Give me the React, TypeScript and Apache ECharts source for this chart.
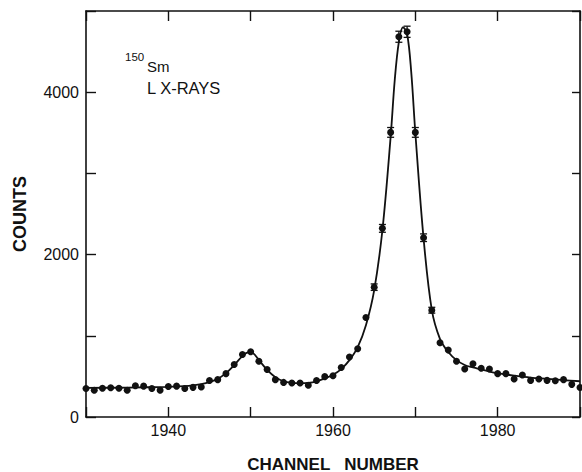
import React, { useEffect, useRef } from 'react';
import * as echarts from 'echarts';

const channels = [
  1930, 1931, 1932, 1933, 1934, 1935, 1936, 1937, 1938, 1939,
  1940, 1941, 1942, 1943, 1944, 1945, 1946, 1947, 1948, 1949,
  1950, 1951, 1952, 1953, 1954, 1955, 1956, 1957, 1958, 1959,
  1960, 1961, 1962, 1963, 1964, 1965, 1966, 1967, 1968, 1969,
  1970, 1971, 1972, 1973, 1974, 1975, 1976, 1977, 1978, 1979,
  1980, 1981, 1982, 1983, 1984, 1985, 1986, 1987, 1988, 1989, 1990,
];
const counts = [
  350, 330, 355, 360, 355, 330, 385, 380, 350, 330,
  375, 380, 350, 365, 370, 450, 460, 534, 646, 770,
  804, 687, 584, 460, 426, 419, 419, 392, 450, 497,
  509, 610, 739, 841, 1226, 1599, 2323, 3505, 4683, 4744,
  3505, 2208, 1315, 915, 824, 687, 592, 655, 600, 592,
  534, 534, 468, 518, 451, 468, 451, 447, 460, 402, 364,
];

const errorChannels = [1965, 1966, 1967, 1968, 1969, 1970, 1971, 1972];
const errorSizes = [40, 48, 60, 68, 69, 60, 47, 36];

const fitChannels = [
  1930, 1935, 1940, 1942, 1943, 1944, 1945, 1946, 1947, 1948, 1949, 1949.7, 1950.3, 1951,
  1952, 1953, 1954, 1955, 1956, 1957, 1958, 1959, 1960, 1961, 1962, 1963, 1964, 1965,
  1966, 1967, 1967.5, 1968, 1968.5, 1969, 1969.5, 1970, 1971, 1972, 1973, 1974, 1975,
  1976, 1977, 1978, 1979, 1980, 1982, 1984, 1986, 1988, 1990,
];
const fitCounts = [
  358, 362, 372, 380, 390, 405, 430, 470, 540, 640, 750, 795, 785, 700,
  580, 490, 440, 420, 415, 420, 440, 475, 520, 590, 700, 860, 1130, 1560,
  2300, 3450, 4150, 4620, 4800, 4720, 4250, 3500, 2200, 1320, 960, 800, 700,
  640, 610, 585, 560, 540, 510, 485, 470, 455, 440,
];

const xTickLabels = ['1940', '1960', '1980'];
const yTickLabels = ['0', '2000', '4000'];

const FONT = 'Liberation Sans';
const INK = '#111';

export default function App() {
  const ref = useRef<HTMLDivElement>(null);

  useEffect(() => {
    const chart = echarts.init(ref.current!, null, { renderer: 'svg' });
    const countByChannel = new Map<number, number>(channels.map((c, i) => [c, counts[i]]));
    const errData = errorChannels.map((c, i) => [
      c,
      (countByChannel.get(c) as number) - errorSizes[i],
      (countByChannel.get(c) as number) + errorSizes[i],
    ]);

    const axisLine = { show: true, onZero: false, lineStyle: { color: INK, width: 1.6 } };
    const tick = { show: true, inside: true, length: 10, lineStyle: { color: INK, width: 1.4 } };

    chart.setOption({
      animation: false,
      backgroundColor: '#fff',
      grid: { left: 86, right: 2, top: 11, bottom: 55, outerBoundsMode: 'none', containLabel: false },
      xAxis: [
        {
          type: 'value',
          min: 1930,
          max: 1990,
          interval: 10,
          position: 'bottom',
          axisLine,
          axisTick: tick,
          splitLine: { show: false },
          axisLabel: {
            formatter: (v: number) => (xTickLabels.includes(String(v)) ? String(v) : ''),
            fontSize: 16,
            fontFamily: FONT,
            color: INK,
            margin: 5,
          },
          name: 'CHANNEL   NUMBER',
          nameLocation: 'middle',
          nameGap: 40,
          nameTextStyle: { fontSize: 17, lineHeight: 14, fontFamily: FONT, color: INK, fontWeight: 'bold' },
        },
        {
          type: 'value',
          min: 1930,
          max: 1990,
          interval: 10,
          position: 'top',
          axisLine,
          axisTick: tick,
          splitLine: { show: false },
          axisLabel: { show: false },
        },
      ],
      yAxis: [
        {
          type: 'value',
          min: 0,
          max: 5000,
          interval: 1000,
          position: 'left',
          axisLine,
          axisTick: tick,
          splitLine: { show: false },
          axisLabel: {
            formatter: (v: number) => (yTickLabels.includes(String(v)) ? String(v) : ''),
            fontSize: 16,
            fontFamily: FONT,
            color: INK,
            margin: 7,
          },
          name: 'COUNTS',
          nameLocation: 'middle',
          nameGap: 57,
          nameTextStyle: { fontSize: 18, fontFamily: FONT, color: INK, fontWeight: 'bold' },
        },
        {
          type: 'value',
          min: 0,
          max: 5000,
          interval: 1000,
          position: 'right',
          axisLine,
          axisTick: { ...tick, length: 8 },
          splitLine: { show: false },
          axisLabel: { show: false },
        },
      ],
      graphic: [
        { type: 'text', left: 125, top: 51, style: { text: '150', fontSize: 11.5, fontFamily: FONT, fill: INK } },
        { type: 'text', left: 147, top: 59, style: { text: 'Sm', fontSize: 15, fontFamily: FONT, fill: INK } },
        { type: 'text', left: 147, top: 79, style: { text: 'L X-RAYS', fontSize: 16.5, fontFamily: FONT, fill: INK } },
      ],
      series: [
        {
          type: 'line',
          data: fitChannels.map((c, i) => [c, fitCounts[i]]),
          smooth: 0.35,
          showSymbol: false,
          lineStyle: { color: INK, width: 1.8 },
          z: 2,
        },
        {
          type: 'scatter',
          data: channels.map((c, i) => [c, counts[i]]),
          symbol: 'circle',
          symbolSize: 7,
          itemStyle: { color: INK, opacity: 1 },
          z: 3,
        },
        {
          type: 'custom',
          data: errData,
          encode: { x: 0, y: [1, 2] },
          z: 4,
          renderItem: (_params: any, api: any) => {
            const x = api.value(0);
            const pLo = api.coord([x, api.value(1)]);
            const pHi = api.coord([x, api.value(2)]);
            const w = 3.5;
            const style = { stroke: INK, lineWidth: 1.3 };
            return {
              type: 'group',
              children: [
                { type: 'line', shape: { x1: pLo[0], y1: pLo[1], x2: pHi[0], y2: pHi[1] }, style },
                { type: 'line', shape: { x1: pLo[0] - w, y1: pLo[1], x2: pLo[0] + w, y2: pLo[1] }, style },
                { type: 'line', shape: { x1: pHi[0] - w, y1: pHi[1], x2: pHi[0] + w, y2: pHi[1] }, style },
              ],
            };
          },
        },
      ],
    });

    return () => chart.dispose();
  }, []);

  return (
    <div
      ref={ref}
      style={{ position: 'fixed', left: 0, top: 0, width: 582, height: 472, background: '#fff' }}
    />
  );
}
